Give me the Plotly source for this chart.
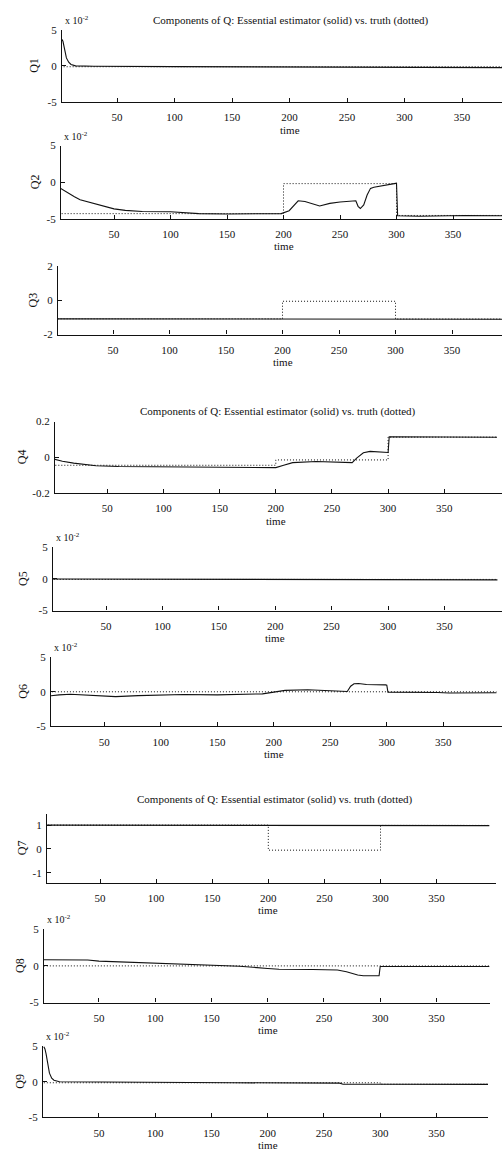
import plotly.graph_objects as go

W, H = 502, 1153

# ---------------- data ----------------
time_ticks = [50, 100, 150, 200, 250, 300, 350]
panel_names = ["Q1", "Q2", "Q3", "Q4", "Q5", "Q6", "Q7", "Q8", "Q9"]
title_text = "Components of Q: Essential estimator (solid) vs. truth (dotted)"

# Q1
q1_t = [1, 2, 3, 4, 5, 6, 8, 10, 14, 30, 100, 200, 263, 268, 300, 397]
q1_est = [0.033, 0.037, 0.034, 0.025, 0.017, 0.011, 0.005, 0.002, 0.0, -0.0005,
          -0.001, -0.0012, -0.0015, -0.0022, -0.0022, -0.0025]
q1_true_t = [1, 200, 300, 397]
q1_true = [-0.0012, -0.0012, -0.0012, -0.0012]

# Q2
q2_t = [1, 5, 10, 15, 20, 30, 40, 50, 60, 75, 100, 125, 150, 175, 198, 205, 213,
        219, 229, 232, 241, 250, 264, 266, 268, 271, 274, 277, 280, 289, 298, 300,
        301, 320, 340, 360, 397]
q2_est = [-0.007, -0.011, -0.016, -0.020, -0.024, -0.028, -0.033, -0.0365, -0.0385,
          -0.040, -0.0405, -0.043, -0.0435, -0.0435, -0.043, -0.039, -0.0255,
          -0.0265, -0.0315, -0.0325, -0.029, -0.027, -0.0255, -0.033, -0.036,
          -0.031, -0.0175, -0.0085, -0.007, -0.005, -0.002, -0.0015,
          -0.046, -0.0465, -0.046, -0.0455, -0.046]
q2_true_t = [1, 200, 300, 397]
q2_true = [-0.043, -0.002, -0.0455, -0.0455]

# Q3
q3_t = [1, 397]
q3_est = [-1.08, -1.1]
q3_true_t = [1, 200, 300, 397]
q3_true = [-1.08, -0.05, -1.09, -1.09]

# Q4
q4_t = [1, 5, 10, 20, 30, 40, 60, 100, 150, 195, 200, 207, 215, 236, 259, 268,
        272, 278, 284, 292, 300, 301, 350, 397]
q4_est = [-0.008, -0.015, -0.022, -0.033, -0.042, -0.048, -0.052, -0.053, -0.054,
          -0.056, -0.058, -0.045, -0.030, -0.024, -0.026, -0.030, -0.005, 0.025,
          0.033, 0.030, 0.027, 0.115, 0.113, 0.112]
q4_true_t = [1, 200, 300, 397]
q4_true = [-0.045, -0.015, 0.113, 0.113]

# Q5
q5_t = [1, 100, 200, 300, 397]
q5_est = [0.0, -0.0004, -0.0008, -0.0011, -0.0014]
q5_true_t = [1, 200, 300, 397]
q5_true = [-0.0007, -0.0007, -0.0007, -0.0007]

# Q6
q6_t = [1, 5, 10, 20, 30, 40, 50, 60, 80, 100, 120, 150, 190, 200, 210, 230, 240,
        255, 265, 268, 271, 275, 282, 299, 300, 301, 333, 345, 355, 370, 397]
q6_est = [-0.006, -0.005, -0.0045, -0.0035, -0.0045, -0.0055, -0.006, -0.007,
          -0.0055, -0.0045, -0.004, -0.0045, -0.003, -0.0005, 0.002, 0.003, 0.002,
          0.001, 0.0005, 0.008, 0.0115, 0.012, 0.0105, 0.010, 0.0095, -0.0005,
          -0.0005, -0.001, -0.0018, -0.0015, -0.0015]
q6_true_t = [1, 200, 300, 397]
q6_true = [0.0, 0.0, 0.0, 0.0]

# Q7
q7_t = [1, 100, 200, 300, 397]
q7_est = [1.0, 1.0, 0.99, 0.99, 0.98]
q7_true_t = [1, 200, 300, 397]
q7_true = [1.0, -0.05, 0.99, 0.99]

# Q8
q8_t = [1, 10, 25, 40, 50, 75, 100, 125, 150, 175, 200, 210, 240, 262, 270, 280,
        285, 299, 300, 330, 340, 350, 360, 397]
q8_est = [0.0085, 0.0085, 0.009, 0.008, 0.0065, 0.005, 0.004, 0.002, 0.0005,
          -0.0005, -0.0035, -0.0045, -0.005, -0.0055, -0.008, -0.0125, -0.0135,
          -0.0135, -0.0008, -0.0008, -0.0004, 0.0, -0.0008, -0.0008]
q8_true_t = [1, 200, 300, 397]
q8_true = [0.0, 0.0, 0.0, 0.0]

# Q9
q9_t = [1, 2, 3, 4, 6, 8, 10, 15, 50, 100, 169, 264, 267, 300, 397]
q9_est = [0.049, 0.046, 0.039, 0.028, 0.012, 0.005, 0.002, 0.0, -0.0005, -0.001,
          -0.0015, -0.002, -0.0035, -0.0035, -0.0038]
q9_true_t = [1, 200, 300, 397]
q9_true = [-0.0015, -0.0015, -0.0035, -0.0035]

series = [
    (q1_t, q1_est, q1_true_t, q1_true),
    (q2_t, q2_est, q2_true_t, q2_true),
    (q3_t, q3_est, q3_true_t, q3_true),
    (q4_t, q4_est, q4_true_t, q4_true),
    (q5_t, q5_est, q5_true_t, q5_true),
    (q6_t, q6_est, q6_true_t, q6_true),
    (q7_t, q7_est, q7_true_t, q7_true),
    (q8_t, q8_est, q8_true_t, q8_true),
    (q9_t, q9_est, q9_true_t, q9_true),
]

# y-axis ranges, tick values and tick labels per component
E2 = ([-0.05, 0.05], [-0.05, 0.0, 0.05], ["-5", "0", "5"], True)
y_specs = [
    E2,
    E2,
    ([-2, 2], [-2, 0, 2], ["-2", "0", "2"], False),
    ([-0.2, 0.2], [-0.2, 0.0, 0.2], ["-0.2", "0", "0.2"], False),
    E2,
    E2,
    ([-1.42, 1.49], [-1, 0, 1], ["-1", "0", "1"], False),
    E2,
    E2,
]

# ---------------- layout (pixel geometry of each panel) ----------------
# left, right, top, bottom, pixel of t=0, pixels per time unit, y-label x
geom = [
    (62, 502, 24, 97, 59.5, 1.15, 34),
    (61, 502, 141, 215, 57.5, 1.13, 35),
    (58, 502, 263, 332, 56.5, 1.13, 33),
    (55, 502, 420, 492, 51.2, 1.123, 22),
    (53, 502, 547, 611, 49.6, 1.128, 23),
    (51, 502, 658, 728, 47.8, 1.13, 23),
    (47, 496, 816, 886, 43.9, 1.122, 22),
    (44, 490, 933, 1007, 42.7, 1.125, 20),
    (43, 488, 1051, 1123, 42.7, 1.125, 20),
]
titles = [(291, 15), (278, 410), (275, 802)]

FONT = "Liberation Serif"
INK = "#111111"


def py(px):
    return 1 - px / H


fig = go.Figure()
layout = dict(
    width=W, height=H,
    margin=dict(l=0, r=0, t=0, b=0),
    paper_bgcolor="white", plot_bgcolor="white",
    showlegend=False,
    font=dict(family=FONT, size=11, color=INK),
)
annotations = []

for i, ((t, est, tt, tv), (yr, yv, yt, sci), g, name) in enumerate(
        zip(series, y_specs, geom, panel_names)):
    n = i + 1
    left, right, top, bottom, x0, sc, ylab_x = g
    xa = "x" if n == 1 else f"x{n}"
    ya = "y" if n == 1 else f"y{n}"

    # truth (dotted) under the estimate (solid)
    fig.add_trace(go.Scatter(x=tt, y=tv, mode="lines", line_shape="hv",
                             line=dict(color=INK, width=1, dash="1px,2px"),
                             xaxis=xa, yaxis=ya, hoverinfo="skip"))
    fig.add_trace(go.Scatter(x=t, y=est, mode="lines",
                             line=dict(color=INK, width=1.1),
                             xaxis=xa, yaxis=ya, hoverinfo="skip"))

    layout[f"xaxis{n}"] = dict(
        domain=[left / W, right / W],
        range=[(left - x0) / sc, (right - x0) / sc],
        anchor=ya, showline=True, linecolor=INK, linewidth=1.3,
        ticks="inside", ticklen=4, tickcolor=INK,
        tickvals=time_ticks, showgrid=False, zeroline=False,
        tickfont=dict(family=FONT, size=11, color=INK),
        ticklabelstandoff=5,
    )
    layout[f"yaxis{n}"] = dict(
        domain=[py(bottom), py(top)],
        range=yr, anchor=xa, showline=True, linecolor=INK, linewidth=1.3,
        ticks="inside", ticklen=4, tickcolor=INK,
        tickvals=yv, ticktext=yt, showgrid=False, zeroline=False,
        tickfont=dict(family=FONT, size=11, color=INK),
        ticklabelstandoff=2,
    )

    # component name on the left
    annotations.append(dict(
        text=name, x=ylab_x / W, y=py((top + bottom) / 2), xref="paper", yref="paper",
        xanchor="center", yanchor="middle", textangle=-90, showarrow=False,
        font=dict(family=FONT, size=12, color=INK)))
    # "time" label below each panel
    annotations.append(dict(
        text="time", x=200, y=py(bottom + 28), xref=xa, yref="paper",
        xanchor="center", yanchor="middle", showarrow=False,
        font=dict(family=FONT, size=11, color=INK)))
    # exponent marker for panels scaled by 1e-2
    if sci:
        annotations.append(dict(
            text="x 10<sup>-2</sup>", x=(left + 1) / W, y=py(top - 10),
            xref="paper", yref="paper", xanchor="left", yanchor="middle",
            showarrow=False, font=dict(family=FONT, size=10, color=INK)))

for cx, cy in titles:
    annotations.append(dict(
        text=title_text, x=cx / W, y=py(cy), xref="paper", yref="paper",
        xanchor="center", yanchor="middle", showarrow=False,
        font=dict(family=FONT, size=11, color=INK)))

layout["annotations"] = annotations
fig.update_layout(**layout)
fig.write_html("out.html")
